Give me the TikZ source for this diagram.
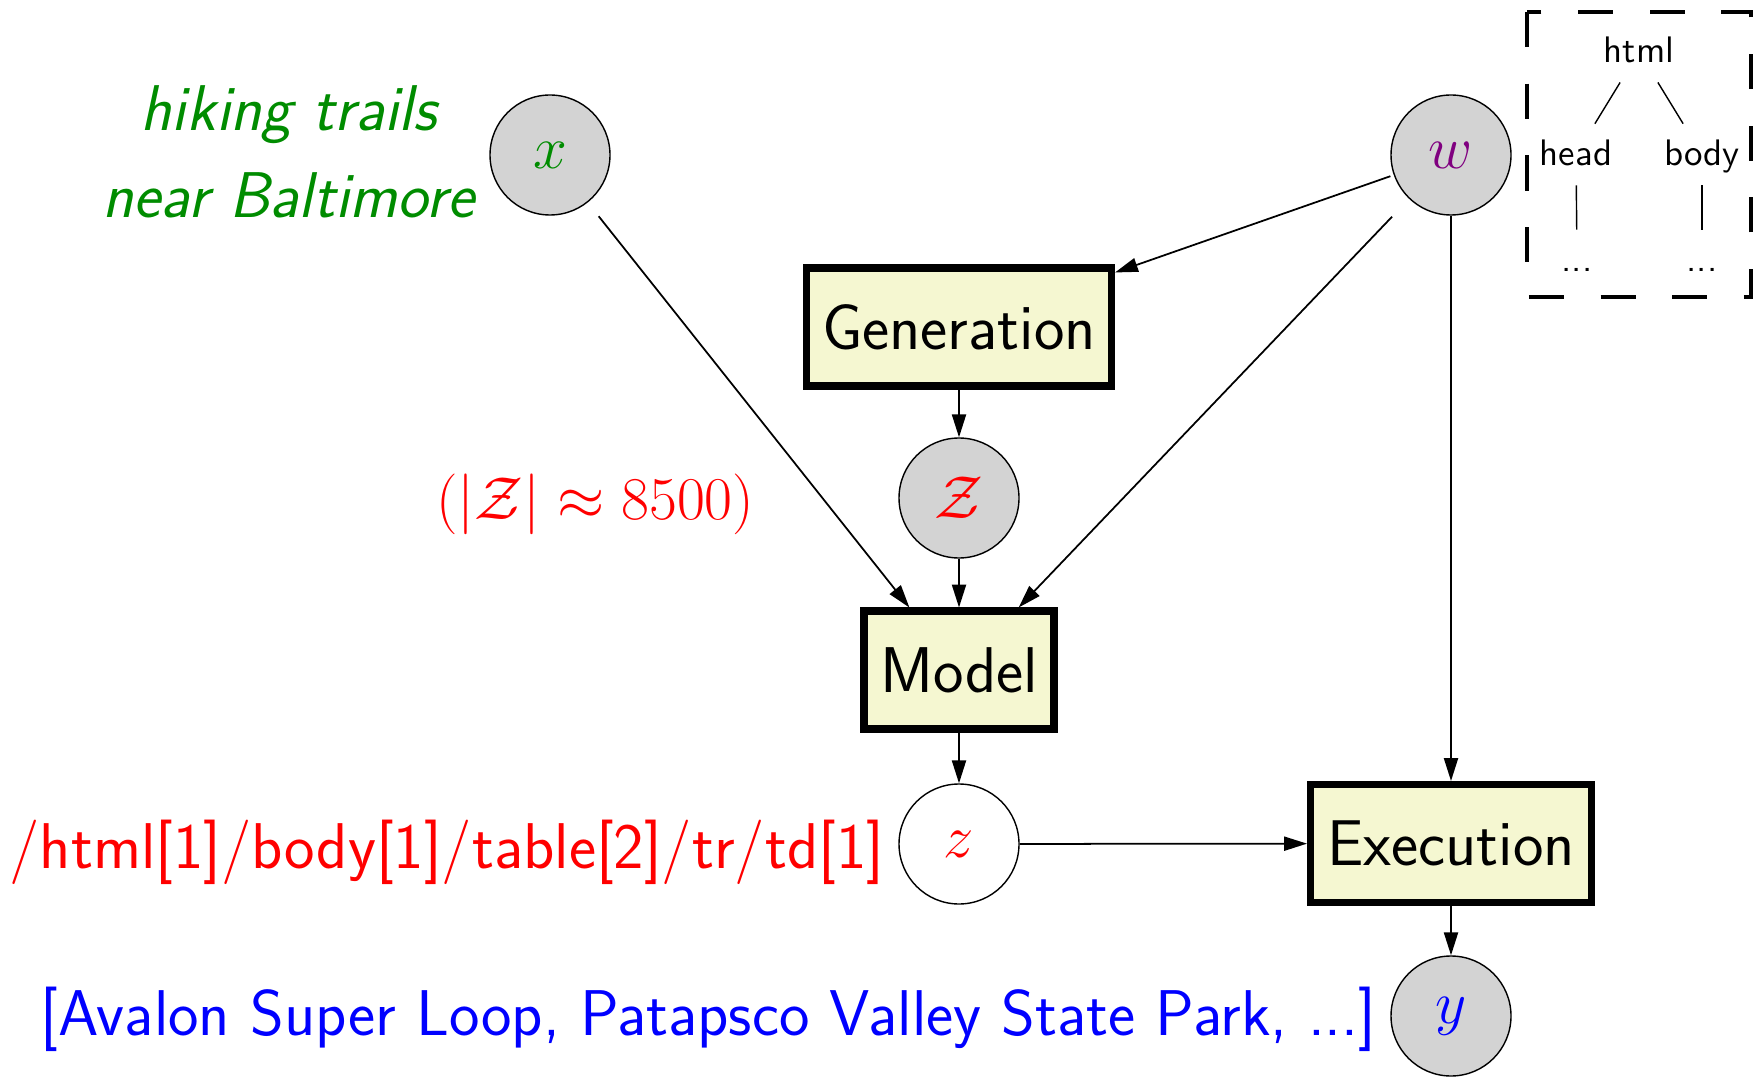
\documentclass[tikz,border=0pt]{standalone}
\usepackage{amssymb}
\usetikzlibrary{arrows.meta}

\definecolor{boxfill}{RGB}{245,247,209}
\definecolor{varfill}{RGB}{211,211,211}
\definecolor{wpurple}{RGB}{128,0,128}
\definecolor{qgreen}{RGB}{0,140,0}

\newcommand{\bigsans}{\fontsize{18.4}{22}\selectfont\sffamily}

\begin{document}
\begin{tikzpicture}[
    var/.style={draw, circle, fill=varfill, minimum size=1.2cm, inner sep=0pt, font=\fontsize{18.4}{22}\selectfont},
    open/.style={draw, circle, minimum size=1.2cm, inner sep=0pt, font=\fontsize{18.4}{22}\selectfont},
    proc/.style={draw, line width=2pt, fill=boxfill, minimum height=1.18cm, font=\bigsans},
    edge/.style={-{Triangle[length=6.5pt,width=4pt]}, line width=0.5pt},
    tree/.style={font=\fontsize{10.5}{12}\selectfont\sffamily, text height=8.5pt, text depth=2pt},
    label/.style={inner sep=0pt, font=\bigsans}
  ]

        \useasboundingbox (0,0) rectangle (17.58,10.76);

        % variables
        \node [var, text=qgreen] (x) at (5.50, 9.21) {$x$};
        \node [var, text=wpurple] (w) at (14.51, 9.21) {$w$};
        \node [var, text=red] (Z) at (9.59, 5.78) {$\mathcal{Z}$};
        \node [open, text=red] (z) at (9.59, 2.32) {$z$};
        \node [var, text=blue] (y) at (14.51, 0.60) {$y$};

        % boxes
        \node [proc, minimum width=3.05cm] (gen) at (9.59, 7.49) {Generation};
        \node [proc, minimum width=1.90cm] (model) at (9.59, 4.06) {Model};
        \node [proc, minimum width=2.81cm] (exec) at (14.51, 2.325) {Execution};

        % labels
        \node [label, text=qgreen, align=center, font=\fontsize{18.4}{24.6}\selectfont\sffamily\itshape] (query) at (2.885, 9.24) {hiking trails\\near Baltimore};
        \node [label, text=red, anchor=east, font=\fontsize{18.8}{22}\selectfont] (zsize) at (7.55, 5.72) {$(|\mathcal{Z}| \approx 8500)$};
        \node [label, text=red, anchor=base east] (path) at (8.85, 2.08) {/html[1]/body[1]/table[2]/tr/td[1]};
        \node [label, text=blue, anchor=base east] (answer) at (13.77, 0.41) {[Avalon Super Loop, Patapsco Valley State Park, ...]};

        % arrows
        \draw [edge, shorten <=5pt] (x) -- (model);
        \draw [edge, shorten <=1pt] (w) -- (gen);
        \draw [edge, shorten <=7pt] (w) -- (model);
        \draw [edge] (w) -- (exec);
        \draw [edge] (gen) -- (Z);
        \draw [edge] (Z) -- (model);
        \draw [edge] (model) -- (z);
        \draw [edge] (z) -- (exec);
        \draw [edge] (exec) -- (y);

        % web page tree
        \draw [line width=1.4pt, dash pattern=on 10pt off 10.4pt] (15.27, 10.64) rectangle (17.51, 7.79);
        \node [tree, anchor=base] (html) at (16.39, 10.13) {html};
        \node [tree, anchor=base] (head) at (15.76, 9.10) {head};
        \node [tree, anchor=base] (body) at (17.02, 9.10) {body};
        \node [tree, anchor=base] (hdots) at (15.77, 8.04) {...};
        \node [tree, anchor=base] (bdots) at (17.02, 8.04) {...};
        \draw (html) -- (head);
        \draw (html) -- (body);
        \draw (head) -- (hdots);
        \draw (body) -- (bdots);

      \end{tikzpicture}
\end{document}
